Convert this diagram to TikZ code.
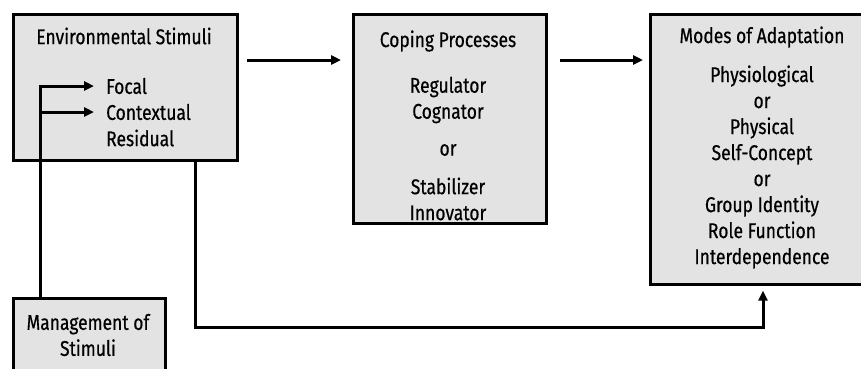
\documentclass[tikz,border=0pt]{standalone}
\usepackage{fontspec}
\setmainfont{Fira Sans}[FakeStretch=0.82,FakeBold=0.5]
\usetikzlibrary{arrows.meta,calc}
\tikzset{
  box/.style={draw=black, line width=2.6pt, fill=black!11, inner sep=0pt, anchor=north west},
  lbl/.style={inner sep=0pt, font=\fontsize{21.3}{26}\selectfont, align=center},
  link/.style={line width=3pt, -{Triangle[length=10pt,width=9pt]}},
}
\begin{document}
\begin{tikzpicture}[x=1pt,y=-1pt]
\useasboundingbox (0,0) rectangle (861,368);
% boxes
\node[box, minimum width=224pt, minimum height=146pt] (env) at (12,13) {};
\node[box, minimum width=193pt, minimum height=209pt] (cope) at (352,13) {};
\node[box, minimum width=226pt, minimum height=270pt] (modes) at (649,13) {};
\node[box, minimum width=152pt, minimum height=110pt] (mgmt) at (12,297) {};
% texts
\node[lbl] (envt) at (124,36) {Environmental Stimuli};
\node[lbl, anchor=west] (focal) at (106,86) {Focal};
\node[lbl, anchor=west] (context) at (106,112) {Contextual};
\node[lbl, anchor=west] (resid) at (106,138) {Residual};
\node[lbl] (copet) at (448,41) {Coping Processes};
\node[lbl] (copea) at (448,100) {Regulator\\Cognator};
\node[lbl] (copeor) at (448,150) {or};
\node[lbl] (copeb) at (448,199) {Stabilizer\\Innovator};
\node[lbl] (modest) at (762,37) {Modes of Adaptation};
\node[lbl] (modesa) at (762,167) {Physiological\\or\\Physical\\Self-Concept\\or\\Group Identity\\Role Function\\Interdependence};
\node[lbl] (mgmtt) at (88,335) {Management of\\Stimuli};
% connectors
\coordinate (a1) at (247,60);
\coordinate (a2) at (560,60);
\draw[link, shorten >=11pt] (a1) -- (a1 -| cope.west);
\draw[link, shorten >=6pt] (a2) -- (a2 -| modes.west);
\coordinate (mgtop) at (40,297);
\draw[link, shorten >=12pt] (mgtop) |- (focal.west);
\draw[link, shorten >=12pt] (mgtop |- context.west) -- (context.west);
\coordinate (fb1) at (195,159);
\coordinate (fb2) at (195,327);
\draw[link, shorten >=5pt] (fb1) -- (fb2) -| (modes.south -| 763,0);
\end{tikzpicture}
\end{document}
